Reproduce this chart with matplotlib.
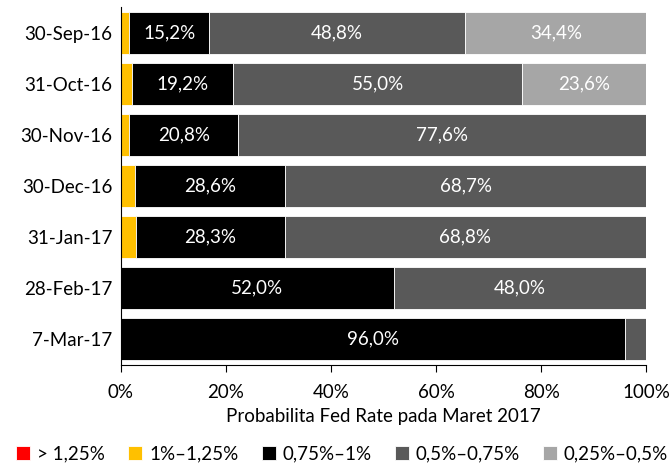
import matplotlib
matplotlib.use("Agg")
import matplotlib.pyplot as plt
import numpy as np
from matplotlib.ticker import FuncFormatter

plt.rcParams['font.family'] = ['Lato', 'DejaVu Sans']

categories = ["30-Sep-16", "31-Oct-16", "30-Nov-16", "30-Dec-16", "31-Jan-17", "28-Feb-17", "7-Mar-17"]
series_names = ["> 1,25%", "1%\u20131,25%", "0,75%\u20131%", "0,5%\u20130,75%", "0,25%\u20130,5%"]
s_gt125 = [0.0, 0.0, 0.0, 0.0, 0.0, 0.0, 0.0]
s_1_125 = [1.6, 2.2, 1.6, 2.7, 2.9, 0.0, 0.0]
s_075_1 = [15.2, 19.2, 20.8, 28.6, 28.3, 52.0, 96.0]
s_05_075 = [48.8, 55.0, 77.6, 68.7, 68.8, 48.0, 4.0]
s_025_05 = [34.4, 23.6, 0.0, 0.0, 0.0, 0.0, 0.0]
colors = ["#FF0000", "#FFC000", "#000000", "#595959", "#A6A6A6"]
label_series = [False, False, True, True, True]

FS = 13.5
fig = plt.figure(figsize=(6.71, 4.66), dpi=100)
ax = fig.add_axes([0.180, 0.217, 0.783, 0.767])

y = np.arange(len(categories))
left = np.zeros(len(categories))
for name, vals, col, lab in zip(series_names, [s_gt125, s_1_125, s_075_1, s_05_075, s_025_05], colors, label_series):
    vals = np.array(vals)
    ax.barh(y, vals, left=left, height=0.82, color=col, edgecolor="white", linewidth=0.6, label=name)
    if lab:
        for yi, (l, v) in enumerate(zip(left, vals)):
            if v >= 10:
                ax.text(l + v / 2, yi, f"{v:.1f}%".replace(".", ","), ha="center", va="center",
                        color="white", fontsize=FS)
    left = left + vals

ax.set_ylim(len(categories) - 0.5, -0.5)
ax.set_xlim(0, 100)
ax.set_yticks(y)
ax.set_yticklabels(categories, fontsize=FS)
ax.set_xticks([0, 20, 40, 60, 80, 100])
ax.xaxis.set_major_formatter(FuncFormatter(lambda v, p: f"{int(v)}%"))
ax.tick_params(axis="x", labelsize=FS, length=5, direction="out", pad=9)
ax.tick_params(axis="y", length=0, pad=6)
for s in ["top", "right"]:
    ax.spines[s].set_visible(False)
ax.set_xlabel("Probabilita Fed Rate pada Maret 2017", fontsize=FS, labelpad=5)

leg = fig.legend(loc="lower center", bbox_to_anchor=(0.51, -0.028), ncol=5, frameon=False,
                 fontsize=FS, handlelength=0.75, handleheight=0.75, handletextpad=0.35, columnspacing=1.25)

fig.savefig("out.png", dpi=100)
